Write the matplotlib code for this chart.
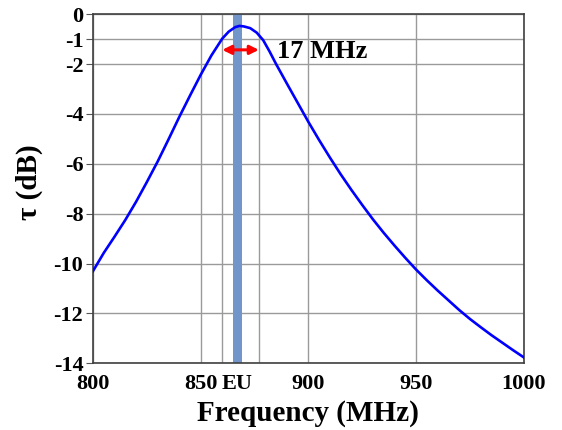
import matplotlib
matplotlib.use("Agg")
import matplotlib.pyplot as plt

# Curve points (MHz, dB)
freq = [800, 805, 810, 815, 820, 825, 830, 835, 840, 845, 850, 855, 860,
        863, 866, 868, 870, 873, 876, 879, 882, 885, 890, 895, 900, 905,
        910, 915, 920, 925, 930, 935, 940, 945, 950, 955, 960, 965, 970,
        975, 980, 985, 990, 995, 1000]
tau = [-10.30, -9.57, -8.92, -8.25, -7.52, -6.73, -5.91, -5.03, -4.13, -3.27,
       -2.43, -1.65, -0.98, -0.70, -0.52, -0.47, -0.49, -0.56, -0.74, -1.04,
       -1.50, -2.00, -2.78, -3.55, -4.32, -5.05, -5.75, -6.42, -7.05, -7.65,
       -8.23, -8.77, -9.28, -9.77, -10.24, -10.67, -11.08, -11.47, -11.86,
       -12.22, -12.55, -12.87, -13.17, -13.47, -13.76]

xticks = [800, 850, 867, 900, 950, 1000]
xtick_labels = ["800", "850", "EU", "900", "950", "1000"]
xgrid = [800, 850, 860, 877, 900, 950, 1000]
yticks = [0, -1, -2, -4, -6, -8, -10, -12, -14]
band = (865, 869)
bw_start, bw_end = 860, 877

plt.rcParams['font.family'] = ['Liberation Serif', 'DejaVu Serif']
plt.rcParams['font.weight'] = 'bold'
plt.rcParams['axes.unicode_minus'] = False

fig = plt.figure(figsize=(5.62, 4.30), dpi=100)
ax = fig.add_axes([0.1655, 0.155, 0.7665, 0.812])

for x in xgrid:
    ax.axvline(x, color='#9a9a9a', lw=1.0, zorder=1)
for y in yticks:
    ax.axhline(y, color='#9a9a9a', lw=1.0, zorder=1)

ax.axvspan(band[0], band[1], color='#7296c9', zorder=2, lw=0)
ax.plot(freq, tau, color='#0000ff', lw=1.9, zorder=3, solid_joinstyle='round')

ax.annotate('', xy=(bw_start, -1.43), xytext=(bw_end, -1.43),
            arrowprops=dict(arrowstyle='<|-|>', color='#ff0000', lw=2.2,
                            mutation_scale=13, shrinkA=0, shrinkB=0), zorder=4)
ax.text(885.2, -1.5, '17 MHz', fontsize=19, fontweight='bold', va='center', ha='left')

ax.set_xlim(800, 1000)
ax.set_ylim(-14, 0)
ax.set_xticks(xticks)
ax.set_xticklabels(xtick_labels)
ax.set_yticks(yticks)
ax.tick_params(axis='x', length=0, labelsize=16, pad=8)
ax.tick_params(axis='y', length=5, labelsize=16, pad=2, color='#555555')
for lab in ax.get_xticklabels() + ax.get_yticklabels():
    lab.set_fontweight('bold')

for s in ax.spines.values():
    s.set_color('#404040')
    s.set_linewidth(1.2)

ax.set_xlabel('Frequency (MHz)', fontsize=21, fontweight='bold', labelpad=4)
ax.set_ylabel('τ (dB)', fontsize=21, fontweight='bold', labelpad=6)
ax.yaxis.set_label_coords(-0.115, 0.52)

fig.savefig('out.png', dpi=100)
